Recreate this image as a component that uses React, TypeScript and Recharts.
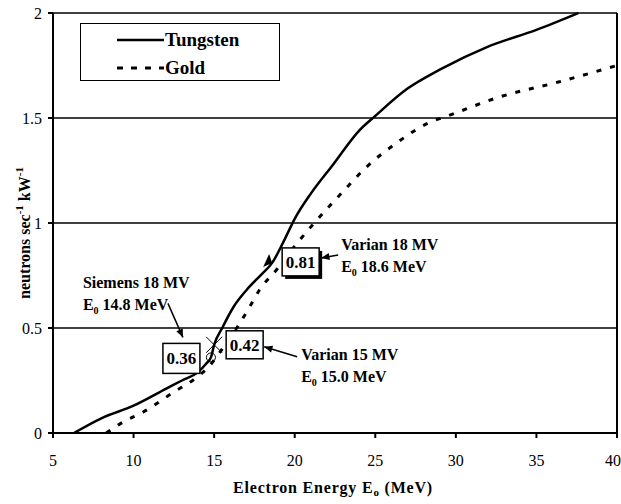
import React from "react";
import {
  LineChart,
  Line,
  XAxis,
  YAxis,
  CartesianGrid,
  ReferenceLine,
  ReferenceDot,
  Label,
} from "recharts";

const tungstenE = [6.3, 8, 10, 12, 13, 14, 14.5, 14.8, 15, 15.5, 16.2, 17, 18, 18.6, 19.3, 20, 21, 22.4, 24, 25, 27, 29, 32, 35, 37.6];
const tungstenN = [0, 0.07, 0.13, 0.21, 0.25, 0.29, 0.33, 0.36, 0.42, 0.5, 0.6, 0.68, 0.76, 0.81, 0.91, 1.02, 1.14, 1.28, 1.44, 1.51, 1.64, 1.73, 1.84, 1.92, 2.0];

const goldE = [8.3, 9.3, 10.6, 12.4, 14, 14.6, 15.5, 16.4, 17.2, 17.8, 18.9, 20, 21.1, 23, 24.5, 26.3, 28.4, 29.5, 32.7, 36.3, 40];
const goldN = [0, 0.05, 0.1, 0.19, 0.27, 0.31, 0.4, 0.5, 0.6, 0.68, 0.78, 0.89, 0.99, 1.15, 1.27, 1.38, 1.48, 1.51, 1.6, 1.67, 1.75];

const xTicks = [5, 10, 15, 20, 25, 30, 35, 40];
const yTicks = [0, 0.5, 1, 1.5, 2];

const tungsten = tungstenE.map((e, i) => ({ e, n: tungstenN[i] }));
const gold = goldE.map((e, i) => ({ e, n: goldN[i] }));

const FONT = "Liberation Serif";

function Sub({ children }: { children: string }) {
  return (
    <tspan fontSize={10} dy={4}>
      {children}
    </tspan>
  );
}

function ValueBox({ x, y, w, h, label, shadow }: any) {
  return (
    <g>
      {shadow && <rect x={x + 3} y={y + 3} width={w} height={h} fill="#000" />}
      <rect x={x} y={y} width={w} height={h} fill="#fff" stroke="#000" strokeWidth={1.5} />
      <text x={x + w / 2} y={y + h / 2 + 6} textAnchor="middle" fontFamily={FONT} fontWeight={700} fontSize={17}>
        {label}
      </text>
    </g>
  );
}

function Arrow({ x1, y1, x2, y2 }: any) {
  const a = Math.atan2(y2 - y1, x2 - x1);
  const L = 9;
  const s = 0.4;
  const p1 = [x2 - L * Math.cos(a - s), y2 - L * Math.sin(a - s)];
  const p2 = [x2 - L * Math.cos(a + s), y2 - L * Math.sin(a + s)];
  return (
    <g>
      <line x1={x1} y1={y1} x2={x2} y2={y2} stroke="#000" strokeWidth={1.5} />
      <polygon points={`${x2},${y2} ${p1[0]},${p1[1]} ${p2[0]},${p2[1]}`} fill="#000" />
    </g>
  );
}

function TwoLines({ x, y, top, e }: any) {
  return (
    <g fontFamily={FONT} fontWeight={700} fontSize={16}>
      <text x={x} y={y}>{top}</text>
      <text x={x} y={y + 22}>
        E<Sub>0</Sub>
        <tspan dy={-4}> {e} MeV</tspan>
      </text>
    </g>
  );
}

// annotation at Siemens point (14.8, 0.36)
const SiemensShape = (p: any) => {
  const { cx, cy } = p;
  return (
    <g>
      <circle cx={cx} cy={cy} r={4.5} fill="none" stroke="#000" strokeWidth={1} />
      <ValueBox x={cx - 48} y={cy - 14} w={37} h={30} label="0.36" />
      <TwoLines x={cx - 128} y={cy - 69} top="Siemens 18 MV" e="14.8" />
      <Arrow x1={cx - 43} y1={cy - 54} x2={cx - 28} y2={cy - 20} />
    </g>
  );
};

// annotation at Varian 15 point (15.0, 0.42)
const Varian15Shape = (p: any) => {
  const { cx, cy } = p;
  return (
    <g>
      <line x1={cx - 8} y1={cy - 8} x2={cx + 8} y2={cy + 8} stroke="#000" strokeWidth={1} />
      <line x1={cx - 8} y1={cy + 8} x2={cx + 8} y2={cy - 8} stroke="#000" strokeWidth={1} />
      <ValueBox x={cx + 12} y={cy - 14} w={37} h={28} label="0.42" />
      <TwoLines x={cx + 87} y={cy + 15} top="Varian 15 MV" e="15.0" />
      <Arrow x1={cx + 83} y1={cy + 12} x2={cx + 50} y2={cy + 2} />
    </g>
  );
};

// annotation at Varian 18 point (18.6, 0.81)
const Varian18Shape = (p: any) => {
  const { cx, cy } = p;
  return (
    <g>
      <polygon points={`${cx},${cy} ${cx - 9},${cy + 4} ${cx - 3},${cy - 9}`} fill="#000" />
      <ValueBox x={cx + 10} y={cy - 15} w={37} h={28} label="0.81" shadow />
      <TwoLines x={cx + 69} y={cy - 13} top="Varian 18 MV" e="18.6" />
      <Arrow x1={cx + 66} y1={cy - 8} x2={cx + 49} y2={cy - 5} />
    </g>
  );
};

const LegendBox = () => (
  <div
    style={{
      position: "absolute",
      left: 80,
      top: 23,
      width: 198,
      height: 56,
      border: "1.5px solid #000",
      background: "#fff",
    }}
  >
    <svg width={198} height={56} style={{ position: "absolute", left: 0, top: 0 }}>
      <line x1={36} y1={16} x2={83} y2={16} stroke="#000" strokeWidth={2.5} />
      <line x1={36} y1={44} x2={83} y2={44} stroke="#000" strokeWidth={3} strokeDasharray="6 8" />
      <g fontFamily={FONT} fontWeight={700} fontSize={19}>
        <text x={84} y={22}>Tungsten</text>
        <text x={84} y={50}>Gold</text>
      </g>
    </svg>
  </div>
);

const YLabel = (p: any) => {
  const vb = p.viewBox;
  const x = 30;
  const y = vb.y + vb.height / 2 + 10;
  return (
    <text
      x={x}
      y={y}
      transform={`rotate(-90 ${x} ${y})`}
      textAnchor="middle"
      fontFamily={FONT}
      fontWeight={700}
      fontSize={16}
    >
      neutrons sec
      <tspan fontSize={11} dy={-7}>-1</tspan>
      <tspan dy={7}> kW</tspan>
      <tspan fontSize={11} dy={-7}>-1</tspan>
    </text>
  );
};

const XLabel = (p: any) => {
  const vb = p.viewBox;
  const x = vb.x + vb.width / 2 - 2;
  return (
    <text x={x} y={493} textAnchor="middle" fontFamily={FONT} fontWeight={700} fontSize={16} letterSpacing={0.8}>
      Electron Energy E
      <tspan fontSize={11} dy={3}>o</tspan>
      <tspan dy={-3}> (MeV)</tspan>
    </text>
  );
};

export default function App() {
  return (
    <div style={{ position: "absolute", left: 0, top: 0, width: 621, height: 504, background: "#fff" }}>
      <LineChart width={621} height={504} margin={{ top: 13, right: 4, left: 13, bottom: 41 }}>
        <CartesianGrid vertical={false} stroke="#000" strokeWidth={1.5} strokeOpacity={1} />
        <XAxis
          type="number"
          dataKey="e"
          domain={[5, 40]}
          ticks={xTicks}
          allowDataOverflow
          stroke="#000"
          strokeWidth={2}
          tickSize={5}
          tickMargin={17}
          height={30}
          tick={{ fill: "#000", fontFamily: FONT, fontSize: 16 }}
        >
          <Label content={XLabel} />
        </XAxis>
        <YAxis
          type="number"
          domain={[0, 2]}
          ticks={yTicks}
          width={40}
          stroke="#000"
          strokeWidth={2}
          tickSize={5}
          tickMargin={6}
          tick={{ fill: "#000", fontFamily: FONT, fontSize: 16 }}
        >
          <Label content={YLabel} />
        </YAxis>
        <ReferenceLine x={40} stroke="#000" strokeWidth={2} />
        <Line
          data={tungsten}
          dataKey="n"
          type="monotone"
          stroke="#000"
          strokeWidth={2.5}
          dot={false}
          isAnimationActive={false}
          name="Tungsten"
        />
        <Line
          data={gold}
          dataKey="n"
          type="monotone"
          stroke="#000"
          strokeWidth={3}
          strokeDasharray="5 9"
          dot={false}
          isAnimationActive={false}
          name="Gold"
        />
        <ReferenceDot x={14.8} y={0.36} r={1} shape={SiemensShape} />
        <ReferenceDot x={15.0} y={0.42} r={1} shape={Varian15Shape} />
        <ReferenceDot x={18.6} y={0.81} r={1} shape={Varian18Shape} />
      </LineChart>
      <LegendBox />
    </div>
  );
}
